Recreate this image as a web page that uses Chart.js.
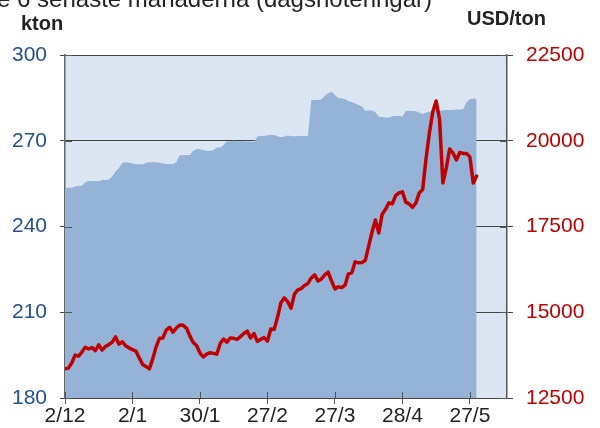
<!DOCTYPE html>
<html>
<head>
<meta charset="utf-8">
<script src="https://cdn.jsdelivr.net/npm/chart.js@4"></script>
<style>
  body { margin: 0; background: #fff; }
  #wrap { position: relative; width: 600px; height: 428px; overflow: hidden; }
</style>
</head>
<body>
<div id="wrap"><canvas id="myChart" width="600" height="428"></canvas></div>
<script>
var titleText = 'de 6 senaste månaderna (dagsnoteringar)';
var leftUnit = 'kton';
var rightUnit = 'USD/ton';

// x tick positions (trading day index) and their labels
var xTickIndex = [0, 20, 40, 60, 80, 100, 120];
var xTickLabels = ['2/12', '2/1', '30/1', '27/2', '27/3', '28/4', '27/5'];
var leftTicks = [180, 210, 240, 270, 300];
var rightTicks = [12500, 15000, 17500, 20000, 22500];

// lager, kton (left axis)
var stockKton = [
  253.6, 253.6, 253.6, 254.0, 254.3, 254.3, 255.5, 255.9, 255.9, 255.9,
  255.8, 256.3, 256.3, 256.4, 257.5, 259.2, 260.5, 262.3, 262.5, 262.3,
  262.0, 261.8, 261.8, 261.8, 262.3, 262.5, 262.5, 262.5, 262.3, 262.0,
  261.9, 261.9, 261.8, 262.5, 264.9, 264.9, 265.0, 265.0, 266.5, 267.1,
  267.0, 266.8, 266.5, 266.5, 266.8, 267.6, 267.6, 268.5, 269.8, 269.8,
  270.0, 269.8, 269.8, 269.8, 269.7, 269.7, 269.5, 271.5, 271.7, 271.7,
  271.9, 272.0, 272.0, 271.6, 271.2, 271.5, 271.8, 271.6, 271.6, 271.7,
  271.7, 271.7, 271.7, 284.3, 284.3, 284.3, 284.5, 285.7, 286.5, 287.2,
  286.0, 285.0, 284.8, 284.6, 283.8, 283.6, 283.0, 282.5, 282.0, 280.5,
  280.6, 280.6, 280.0, 278.4, 278.3, 278.1, 278.1, 278.6, 278.7, 278.7,
  278.5, 280.4, 280.5, 280.4, 280.3, 279.8, 279.4, 279.8, 280.2, 280.2,
  280.3, 280.5, 280.7, 280.8, 280.8, 280.8, 280.9, 280.9, 281.0, 283.5,
  284.5, 284.8, 284.6
];

// pris, USD/ton (right axis)
var priceUsd = [
  13350, 13370, 13520, 13750, 13720, 13840, 13980, 13930, 13970, 13880,
  14050, 13900, 14000, 14060, 14130, 14280, 14070, 14140, 14020, 13960,
  13910, 13870, 13670, 13480, 13420, 13350, 13640, 13990, 14240, 14250,
  14480, 14560, 14420, 14540, 14630, 14620, 14540, 14310, 14120, 14030,
  13810, 13700, 13780, 13820, 13800, 13780, 14090, 14220, 14130, 14250,
  14240, 14210, 14290, 14380, 14450, 14250, 14380, 14150, 14210, 14260,
  14160, 14510, 14500, 14860, 15280, 15420, 15310, 15120, 15530, 15650,
  15690, 15780, 15840, 16000, 16090, 15910, 15970, 16090, 16170, 15910,
  15680, 15740, 15720, 15790, 16120, 16150, 16470, 16440, 16450, 16510,
  16930, 17340, 17690, 17310, 17860, 18000, 18190, 18160, 18400, 18480,
  18510, 18210, 18160, 18060, 18190, 18480, 18580, 19470, 20230, 20840,
  21160, 20630, 18770, 19210, 19760, 19640, 19440, 19660, 19630, 19630,
  19530, 18770, 18970
];

var xMax = 131;
var fontName = '"Liberation Sans", Arial, sans-serif';

var stockPoints = stockKton.map(function (v, i) { return { x: i, y: v }; });
var pricePoints = priceUsd.map(function (v, i) { return { x: i, y: v }; });

// light plot background
var bgPlugin = {
  id: 'plotBg',
  beforeDraw: function (chart) {
    var a = chart.chartArea, c = chart.ctx;
    c.save();
    c.fillStyle = '#dce6f2';
    c.fillRect(a.left, a.top, a.right - a.left, a.bottom - a.top);
    c.restore();
  }
};

// short tick marks on the inside of the axes + header texts
var extrasPlugin = {
  id: 'extras',
  afterDatasetsDraw: function (chart) {
    var c = chart.ctx, a = chart.chartArea;
    var sx = chart.scales.x, sy = chart.scales.y, sy1 = chart.scales.y1;
    c.save();
    c.strokeStyle = '#555';
    c.lineWidth = 1;
    c.beginPath();
    leftTicks.forEach(function (v) {
      var y = Math.round(sy.getPixelForValue(v)) + 0.5;
      c.moveTo(a.left, y); c.lineTo(a.left + 7, y);
    });
    rightTicks.forEach(function (v) {
      var y = Math.round(sy1.getPixelForValue(v)) + 0.5;
      c.moveTo(a.right - 7, y); c.lineTo(a.right, y);
    });
    xTickIndex.forEach(function (v) {
      var x = Math.round(sx.getPixelForValue(v)) + 0.5;
      c.moveTo(x, a.bottom - 6); c.lineTo(x, a.bottom);
    });
    c.stroke();
    c.restore();
  },
  afterDraw: function (chart) {
    var c = chart.ctx;
    c.save();
    c.fillStyle = '#222';
    c.textBaseline = 'alphabetic';
    c.font = '24px ' + fontName;
    c.textAlign = 'right';
    c.fillText(titleText, 432, 7);
    c.font = 'bold 20px ' + fontName;
    c.textAlign = 'left';
    c.fillText(leftUnit, 21, 30);
    c.fillText(rightUnit, 467, 25);
    c.restore();
  }
};

var ctx = document.getElementById('myChart').getContext('2d');
var myChart = new Chart(ctx, {
  type: 'line',
  data: {
    datasets: [{
      label: 'Pris',
      data: pricePoints,
      yAxisID: 'y1',
      borderColor: '#c00000',
      borderWidth: 3.5,
      borderJoinStyle: 'round',
      borderCapStyle: 'round',
      pointRadius: 0,
      tension: 0,
      fill: false
    },
    {
      label: 'Lager',
      data: stockPoints,
      yAxisID: 'y',
      borderWidth: 0,
      borderColor: '#95b3d7',
      backgroundColor: '#95b3d7',
      pointRadius: 0,
      tension: 0,
      fill: 'start'
    }]
  },
  options: {
    responsive: false,
    animation: false,
    devicePixelRatio: 1,
    layout: { padding: { top: 55, left: 0, right: 0, bottom: 0 } },
    plugins: {
      legend: { display: false },
      tooltip: { enabled: false }
    },
    scales: {
      x: {
        type: 'linear',
        min: 0,
        max: xMax,
        afterBuildTicks: function (scale) {
          scale.ticks = xTickIndex.map(function (v) { return { value: v }; });
        },
        afterFit: function (scale) { scale.height = 30; },
        ticks: {
          autoSkip: false,
          maxRotation: 0,
          padding: 0,
          color: '#222',
          font: { family: fontName, size: 21 },
          callback: function (v) {
            var k = xTickIndex.indexOf(v);
            return k >= 0 ? xTickLabels[k] : '';
          }
        },
        grid: { drawOnChartArea: false, color: '#555', tickLength: 6 },
        border: { display: false }
      },
      y: {
        position: 'left',
        min: 180,
        max: 300,
        afterBuildTicks: function (scale) {
          scale.ticks = leftTicks.map(function (v) { return { value: v }; });
        },
        afterFit: function (scale) { scale.width = 65; },
        ticks: {
          padding: 13,
          color: '#24508f',
          font: { family: fontName, size: 21 },
          callback: function (v) { return String(v); }
        },
        grid: { color: '#444', tickLength: 5 },
        border: { display: true, color: '#666', width: 1.5 }
      },
      y1: {
        position: 'right',
        min: 12500,
        max: 22500,
        afterBuildTicks: function (scale) {
          scale.ticks = rightTicks.map(function (v) { return { value: v }; });
        },
        afterFit: function (scale) { scale.width = 93; },
        ticks: {
          padding: 13,
          color: '#c00000',
          font: { family: fontName, size: 21 },
          callback: function (v) { return String(v); }
        },
        grid: { drawOnChartArea: false, color: '#444', tickLength: 6 },
        border: { display: true, color: '#555', width: 1.5 }
      }
    }
  },
  plugins: [bgPlugin, extrasPlugin]
});
</script>
</body>
</html>
